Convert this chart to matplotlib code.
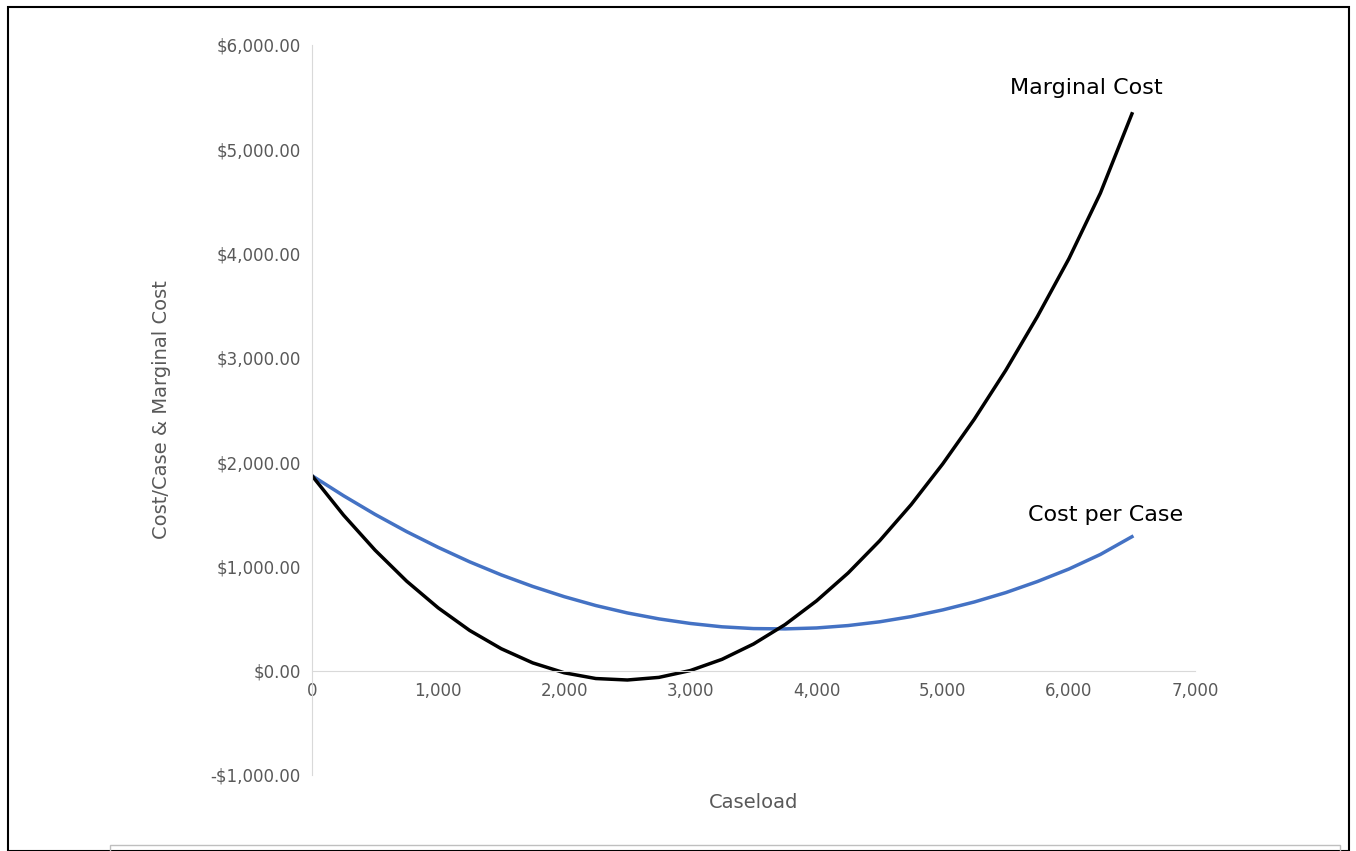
import matplotlib
matplotlib.use("Agg")
import matplotlib.pyplot as plt
from matplotlib.ticker import FuncFormatter
from matplotlib.patches import Rectangle

caseload = [0, 250, 500, 750, 1000, 1250, 1500, 1750, 2000, 2250, 2500, 2750, 3000, 3250,
            3500, 3750, 4000, 4250, 4500, 4750, 5000, 5250, 5500, 5750, 6000, 6250, 6500]
cost_per_case = [1870, 1678, 1499, 1334, 1183, 1044, 919, 808, 710, 625, 554, 497, 453, 421,
                 404, 401, 410, 433, 469, 519, 583, 659, 749, 855, 975, 1115, 1285]
marginal_cost = [1870, 1492, 1156, 859, 603, 386, 211, 75, -20, -75, -89, -64, 2, 109,
                 256, 442, 670, 937, 1246, 1593, 1983, 2411, 2881, 3395, 3950, 4580, 5340]

fig = plt.figure(figsize=(13.56, 8.51), dpi=100)
fig.patches.append(Rectangle((8/1356, 0), 1341/1356, 844/851, transform=fig.transFigure,
                             fill=False, edgecolor="black", lw=1.5))
fig.patches.append(Rectangle((110/1356, -0.01), 1230/1356, (851-845)/851 + 0.01, transform=fig.transFigure,
                             fill=False, edgecolor="#bfbfbf", lw=1))
ax = fig.add_axes([312/1356, 1 - 775/851, 883/1356, 730/851])

ax.plot(caseload, cost_per_case, color="#4472c4", lw=2.5)
ax.plot(caseload, marginal_cost, color="black", lw=2.5)

ax.set_xlim(0, 7000)
ax.set_ylim(-1000, 6000)
ax.set_yticks(range(-1000, 6001, 1000))
ax.set_xticks(range(0, 7001, 1000))
ax.yaxis.set_major_formatter(FuncFormatter(lambda v, p: ("-$%s" % format(abs(v), ",.2f")) if v < 0 else "$" + format(v, ",.2f")))
ax.xaxis.set_major_formatter(FuncFormatter(lambda v, p: format(int(v), ",")))

for s in ["top", "right"]:
    ax.spines[s].set_visible(False)
ax.spines["left"].set_color("#d9d9d9")
ax.spines["bottom"].set_color("#d9d9d9")
ax.spines["bottom"].set_position(("data", 0))
ax.tick_params(length=0, labelsize=12, colors="#595959", pad=8)
ax.set_ylabel("Cost/Case & Marginal Cost", fontsize=14, color="#595959")
ax.yaxis.set_label_coords(-0.16, 0.5)
ax.set_xlabel("Caseload", fontsize=14, color="#595959")
ax.xaxis.set_label_coords(0.5, -0.025)

ax.text(5530, 5530, "Marginal Cost", fontsize=16, color="black")
ax.text(5680, 1440, "Cost per Case", fontsize=16, color="black")

fig.savefig("out.png", dpi=100)
